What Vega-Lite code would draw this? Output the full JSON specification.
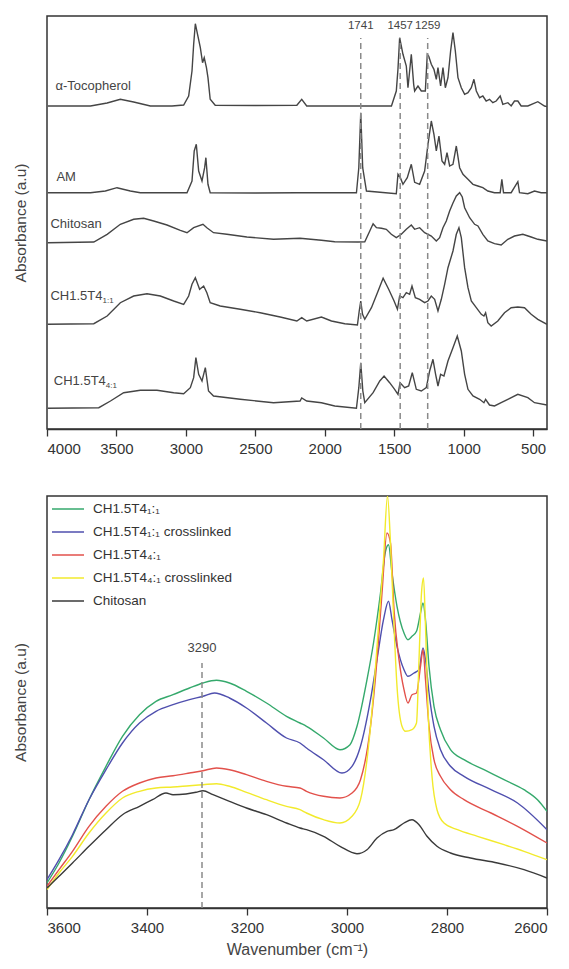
{
"$schema":"https://vega.github.io/schema/vega-lite/v6.json",
"background":"white",
"padding":{"left":12,"top":15,"right":18,"bottom":5},
"spacing":38,
"config":{
 "font":"Liberation Sans",
 "view":{"stroke":"#333","strokeWidth":1.5},
 "axis":{"grid":false,"domainColor":"#333","domainWidth":1.5,"tickColor":"#333","tickWidth":1.3,"tickSize":7,"labelColor":"#333","labelFontSize":15,"labelPadding":5,"titleColor":"#444","titleFontSize":16,"titleFontWeight":"normal","titleFont":"Liberation Sans","labelFont":"Liberation Sans","titlePadding":6},
 "axisY":{"labels":false,"ticks":false,"domain":false,"titlePadding":19,"titleFontSize":15.5}
},
"datasets":{
"top":[
{"s":"T","w":3994,"a":323},{"s":"T","w":3850,"a":323},{"s":"T","w":3687,"a":323},{"s":"T","w":3567,"a":326},{"s":"T","w":3472,"a":329.7},{"s":"T","w":3376,"a":327},{"s":"T","w":3256,"a":323},{"s":"T","w":3100,"a":323},{"s":"T","w":3016,"a":324},{"s":"T","w":2980,"a":333},{"s":"T","w":2956,"a":358},{"s":"T","w":2944,"a":384.7},{"s":"T","w":2932,"a":405.3},{"s":"T","w":2916,"a":394.7},{"s":"T","w":2896,"a":381.3},{"s":"T","w":2880,"a":366.3},{"s":"T","w":2868,"a":371.3},{"s":"T","w":2852,"a":361.3},{"s":"T","w":2841,"a":351.3},{"s":"T","w":2825,"a":329.7},{"s":"T","w":2789,"a":323.7},{"s":"T","w":2500,"a":323.5},{"s":"T","w":2201,"a":323.7},{"s":"T","w":2166,"a":329.7},{"s":"T","w":2130,"a":323},{"s":"T","w":1800,"a":323},{"s":"T","w":1520,"a":323},{"s":"T","w":1485,"a":338},{"s":"T","w":1473,"a":360},{"s":"T","w":1461,"a":391.3},{"s":"T","w":1437,"a":374.7},{"s":"T","w":1413,"a":363},{"s":"T","w":1401,"a":341.3},{"s":"T","w":1377,"a":374.7},{"s":"T","w":1360,"a":344.7},{"s":"T","w":1353,"a":338},{"s":"T","w":1329,"a":343},{"s":"T","w":1305,"a":338},{"s":"T","w":1276,"a":338},{"s":"T","w":1262,"a":374.7},{"s":"T","w":1252,"a":373},{"s":"T","w":1233,"a":364.7},{"s":"T","w":1214,"a":359.7},{"s":"T","w":1197,"a":349.7},{"s":"T","w":1185,"a":361.3},{"s":"T","w":1166,"a":343},{"s":"T","w":1149,"a":361.3},{"s":"T","w":1132,"a":341.3},{"s":"T","w":1113,"a":351.3},{"s":"T","w":1094,"a":378},{"s":"T","w":1077,"a":396.3},{"s":"T","w":1060,"a":378},{"s":"T","w":1041,"a":351.3},{"s":"T","w":1017,"a":341.3},{"s":"T","w":993,"a":334.7},{"s":"T","w":969,"a":336.3},{"s":"T","w":945,"a":341.3},{"s":"T","w":926,"a":349.7},{"s":"T","w":909,"a":338},{"s":"T","w":885,"a":331.3},{"s":"T","w":862,"a":333},{"s":"T","w":838,"a":328},{"s":"T","w":814,"a":329.7},{"s":"T","w":790,"a":326.3},{"s":"T","w":766,"a":328},{"s":"T","w":737,"a":333},{"s":"T","w":718,"a":324.7},{"s":"T","w":682,"a":326.3},{"s":"T","w":658,"a":323},{"s":"T","w":634,"a":328},{"s":"T","w":610,"a":328},{"s":"T","w":586,"a":323},{"s":"T","w":538,"a":323},{"s":"T","w":466,"a":327.3},{"s":"T","w":418,"a":323},{"s":"T","w":400,"a":322.3},
{"s":"AM","w":3994,"a":236.3},{"s":"AM","w":3687,"a":236.3},{"s":"AM","w":3580,"a":238},{"s":"AM","w":3496,"a":241.3},{"s":"AM","w":3400,"a":238},{"s":"AM","w":3328,"a":236.3},{"s":"AM","w":2992,"a":236.3},{"s":"AM","w":2956,"a":248},{"s":"AM","w":2940,"a":278},{"s":"AM","w":2925,"a":284.7},{"s":"AM","w":2908,"a":258},{"s":"AM","w":2884,"a":248},{"s":"AM","w":2865,"a":261.3},{"s":"AM","w":2856,"a":271.3},{"s":"AM","w":2841,"a":244.7},{"s":"AM","w":2825,"a":236.3},{"s":"AM","w":2500,"a":236},{"s":"AM","w":2200,"a":236.3},{"s":"AM","w":1772,"a":236.3},{"s":"AM","w":1755,"a":261.3},{"s":"AM","w":1741,"a":316.3},{"s":"AM","w":1727,"a":261.3},{"s":"AM","w":1700,"a":238},{"s":"AM","w":1485,"a":235.3},{"s":"AM","w":1473,"a":254.7},{"s":"AM","w":1456,"a":251.3},{"s":"AM","w":1437,"a":244.7},{"s":"AM","w":1406,"a":251.3},{"s":"AM","w":1377,"a":264.7},{"s":"AM","w":1353,"a":246.7},{"s":"AM","w":1317,"a":244.7},{"s":"AM","w":1281,"a":258},{"s":"AM","w":1257,"a":284.7},{"s":"AM","w":1233,"a":308},{"s":"AM","w":1214,"a":294.7},{"s":"AM","w":1197,"a":278},{"s":"AM","w":1178,"a":293},{"s":"AM","w":1156,"a":268},{"s":"AM","w":1137,"a":264.7},{"s":"AM","w":1120,"a":276.3},{"s":"AM","w":1101,"a":263},{"s":"AM","w":1077,"a":264.7},{"s":"AM","w":1053,"a":283},{"s":"AM","w":1029,"a":261.3},{"s":"AM","w":1005,"a":254.7},{"s":"AM","w":969,"a":249.7},{"s":"AM","w":933,"a":244.7},{"s":"AM","w":898,"a":243},{"s":"AM","w":862,"a":241.3},{"s":"AM","w":826,"a":238},{"s":"AM","w":778,"a":236.3},{"s":"AM","w":737,"a":236.3},{"s":"AM","w":725,"a":249.7},{"s":"AM","w":713,"a":236.3},{"s":"AM","w":658,"a":236.3},{"s":"AM","w":610,"a":247.3},{"s":"AM","w":598,"a":236.3},{"s":"AM","w":538,"a":235.3},{"s":"AM","w":490,"a":238},{"s":"AM","w":442,"a":236.3},{"s":"AM","w":400,"a":236.3},
{"s":"C","w":3994,"a":186.3},{"s":"C","w":3663,"a":187},{"s":"C","w":3567,"a":194.7},{"s":"C","w":3472,"a":204.7},{"s":"C","w":3376,"a":209.7},{"s":"C","w":3304,"a":210.7},{"s":"C","w":3232,"a":208},{"s":"C","w":3136,"a":204},{"s":"C","w":3040,"a":198.7},{"s":"C","w":2992,"a":196.3},{"s":"C","w":2944,"a":201.3},{"s":"C","w":2877,"a":204.7},{"s":"C","w":2849,"a":201.3},{"s":"C","w":2801,"a":196.3},{"s":"C","w":2705,"a":194.7},{"s":"C","w":2561,"a":192},{"s":"C","w":2369,"a":189.7},{"s":"C","w":2178,"a":190.7},{"s":"C","w":2024,"a":188.7},{"s":"C","w":1928,"a":187.3},{"s":"C","w":1760,"a":187},{"s":"C","w":1712,"a":187.3},{"s":"C","w":1676,"a":198},{"s":"C","w":1652,"a":205.3},{"s":"C","w":1628,"a":201.3},{"s":"C","w":1592,"a":200.7},{"s":"C","w":1557,"a":199.7},{"s":"C","w":1521,"a":194.7},{"s":"C","w":1485,"a":191.3},{"s":"C","w":1449,"a":194.7},{"s":"C","w":1413,"a":199.7},{"s":"C","w":1377,"a":204},{"s":"C","w":1353,"a":199.7},{"s":"C","w":1317,"a":201.3},{"s":"C","w":1281,"a":196.3},{"s":"C","w":1233,"a":193},{"s":"C","w":1197,"a":188},{"s":"C","w":1173,"a":191.3},{"s":"C","w":1149,"a":201.3},{"s":"C","w":1125,"a":208},{"s":"C","w":1101,"a":218},{"s":"C","w":1077,"a":226},{"s":"C","w":1053,"a":233},{"s":"C","w":1029,"a":236.3},{"s":"C","w":1010,"a":232},{"s":"C","w":993,"a":221.3},{"s":"C","w":957,"a":211.3},{"s":"C","w":921,"a":204.7},{"s":"C","w":897,"a":203},{"s":"C","w":862,"a":194.7},{"s":"C","w":826,"a":188},{"s":"C","w":778,"a":185.3},{"s":"C","w":730,"a":184},{"s":"C","w":682,"a":189.7},{"s":"C","w":634,"a":193},{"s":"C","w":574,"a":194.7},{"s":"C","w":514,"a":192},{"s":"C","w":466,"a":189.7},{"s":"C","w":400,"a":188},
{"s":"C11","w":3994,"a":104.7},{"s":"C11","w":3663,"a":105.3},{"s":"C11","w":3567,"a":113},{"s":"C11","w":3472,"a":126.3},{"s":"C11","w":3376,"a":133},{"s":"C11","w":3280,"a":135.3},{"s":"C11","w":3184,"a":133},{"s":"C11","w":3088,"a":128},{"s":"C11","w":3016,"a":124.7},{"s":"C11","w":2980,"a":133},{"s":"C11","w":2956,"a":144.7},{"s":"C11","w":2932,"a":151.3},{"s":"C11","w":2901,"a":139.7},{"s":"C11","w":2872,"a":143},{"s":"C11","w":2849,"a":136.3},{"s":"C11","w":2825,"a":126.3},{"s":"C11","w":2753,"a":123},{"s":"C11","w":2609,"a":119.7},{"s":"C11","w":2465,"a":116.3},{"s":"C11","w":2321,"a":112},{"s":"C11","w":2201,"a":108},{"s":"C11","w":2166,"a":111.3},{"s":"C11","w":2130,"a":108},{"s":"C11","w":2024,"a":112},{"s":"C11","w":1952,"a":108},{"s":"C11","w":1856,"a":105.3},{"s":"C11","w":1765,"a":104},{"s":"C11","w":1752,"a":118},{"s":"C11","w":1741,"a":128},{"s":"C11","w":1728,"a":114.7},{"s":"C11","w":1712,"a":109.7},{"s":"C11","w":1664,"a":121.3},{"s":"C11","w":1616,"a":138},{"s":"C11","w":1580,"a":150.7},{"s":"C11","w":1540,"a":139.7},{"s":"C11","w":1501,"a":128},{"s":"C11","w":1477,"a":119.7},{"s":"C11","w":1461,"a":133},{"s":"C11","w":1437,"a":131.3},{"s":"C11","w":1413,"a":136.3},{"s":"C11","w":1389,"a":134.7},{"s":"C11","w":1372,"a":143},{"s":"C11","w":1348,"a":131.3},{"s":"C11","w":1317,"a":129.7},{"s":"C11","w":1281,"a":126.3},{"s":"C11","w":1257,"a":128},{"s":"C11","w":1233,"a":133},{"s":"C11","w":1209,"a":129.7},{"s":"C11","w":1185,"a":118},{"s":"C11","w":1161,"a":129.7},{"s":"C11","w":1137,"a":144.7},{"s":"C11","w":1113,"a":161.3},{"s":"C11","w":1077,"a":178},{"s":"C11","w":1053,"a":194.7},{"s":"C11","w":1034,"a":201.3},{"s":"C11","w":1017,"a":191.3},{"s":"C11","w":993,"a":161.3},{"s":"C11","w":969,"a":141.3},{"s":"C11","w":945,"a":128},{"s":"C11","w":909,"a":121.3},{"s":"C11","w":873,"a":114.7},{"s":"C11","w":854,"a":113},{"s":"C11","w":842,"a":116.3},{"s":"C11","w":826,"a":106.3},{"s":"C11","w":802,"a":103},{"s":"C11","w":754,"a":108},{"s":"C11","w":706,"a":116.3},{"s":"C11","w":658,"a":121.3},{"s":"C11","w":610,"a":122},{"s":"C11","w":562,"a":121.3},{"s":"C11","w":514,"a":114.7},{"s":"C11","w":466,"a":109.7},{"s":"C11","w":400,"a":104.7},
{"s":"C41","w":3994,"a":20.7},{"s":"C41","w":3627,"a":21.3},{"s":"C41","w":3543,"a":28},{"s":"C41","w":3448,"a":36.3},{"s":"C41","w":3328,"a":38.7},{"s":"C41","w":3208,"a":38.7},{"s":"C41","w":3088,"a":36.3},{"s":"C41","w":3016,"a":35.3},{"s":"C41","w":2968,"a":41.3},{"s":"C41","w":2944,"a":51.3},{"s":"C41","w":2928,"a":71.3},{"s":"C41","w":2908,"a":54.7},{"s":"C41","w":2884,"a":48},{"s":"C41","w":2860,"a":61.3},{"s":"C41","w":2837,"a":38},{"s":"C41","w":2801,"a":33},{"s":"C41","w":2609,"a":29.7},{"s":"C41","w":2369,"a":26.3},{"s":"C41","w":2178,"a":28},{"s":"C41","w":2166,"a":31},{"s":"C41","w":2130,"a":28},{"s":"C41","w":2024,"a":26.3},{"s":"C41","w":1928,"a":23},{"s":"C41","w":1772,"a":20.7},{"s":"C41","w":1755,"a":41.3},{"s":"C41","w":1741,"a":66.3},{"s":"C41","w":1726,"a":38},{"s":"C41","w":1712,"a":26.3},{"s":"C41","w":1652,"a":36.3},{"s":"C41","w":1604,"a":48},{"s":"C41","w":1573,"a":53},{"s":"C41","w":1533,"a":46.3},{"s":"C41","w":1497,"a":39.7},{"s":"C41","w":1473,"a":34.7},{"s":"C41","w":1458,"a":46.3},{"s":"C41","w":1425,"a":41.3},{"s":"C41","w":1396,"a":43},{"s":"C41","w":1370,"a":56.3},{"s":"C41","w":1341,"a":39.7},{"s":"C41","w":1305,"a":38},{"s":"C41","w":1269,"a":41.3},{"s":"C41","w":1245,"a":58},{"s":"C41","w":1221,"a":69.7},{"s":"C41","w":1202,"a":54.7},{"s":"C41","w":1185,"a":43},{"s":"C41","w":1166,"a":54.7},{"s":"C41","w":1142,"a":53},{"s":"C41","w":1113,"a":68},{"s":"C41","w":1077,"a":81.3},{"s":"C41","w":1046,"a":93},{"s":"C41","w":1017,"a":78},{"s":"C41","w":993,"a":54.7},{"s":"C41","w":969,"a":39.7},{"s":"C41","w":933,"a":33},{"s":"C41","w":885,"a":29.7},{"s":"C41","w":854,"a":26.3},{"s":"C41","w":842,"a":29.7},{"s":"C41","w":814,"a":24},{"s":"C41","w":778,"a":23},{"s":"C41","w":730,"a":26.3},{"s":"C41","w":682,"a":29.7},{"s":"C41","w":610,"a":34.7},{"s":"C41","w":538,"a":31.3},{"s":"C41","w":490,"a":26.3},{"s":"C41","w":400,"a":24}
],
"names":[
{"t":"α-Tocopherol","sub":"","w":3939,"a":343},
{"t":"AM","sub":"","w":3932,"a":252.3},
{"t":"Chitosan","sub":"","w":3975,"a":204.7},
{"t":"CH1.5T4","sub":"1:1","w":3975,"a":133},
{"t":"CH1.5T4","sub":"4:1","w":3951,"a":48}
],
"peaks":[{"w":1741},{"w":1457},{"w":1259}],
"peak2":[{"w":3290}],
"bottom":[
{"s":"CH1.5T4₁:₁","w":3600,"a":25},{"s":"CH1.5T4₁:₁","w":3576,"a":45},{"s":"CH1.5T4₁:₁","w":3549,"a":71.7},{"s":"CH1.5T4₁:₁","w":3516,"a":108.3},{"s":"CH1.5T4₁:₁","w":3482,"a":141.7},{"s":"CH1.5T4₁:₁","w":3449,"a":171.7},{"s":"CH1.5T4₁:₁","w":3415,"a":193.3},{"s":"CH1.5T4₁:₁","w":3382,"a":206.7},{"s":"CH1.5T4₁:₁","w":3348,"a":213.3},{"s":"CH1.5T4₁:₁","w":3315,"a":220},{"s":"CH1.5T4₁:₁","w":3288,"a":225},{"s":"CH1.5T4₁:₁","w":3261,"a":227.7},{"s":"CH1.5T4₁:₁","w":3235,"a":225},{"s":"CH1.5T4₁:₁","w":3201,"a":216.7},{"s":"CH1.5T4₁:₁","w":3161,"a":205},{"s":"CH1.5T4₁:₁","w":3121,"a":191.7},{"s":"CH1.5T4₁:₁","w":3094,"a":185},{"s":"CH1.5T4₁:₁","w":3081,"a":181.7},{"s":"CH1.5T4₁:₁","w":3047,"a":170},{"s":"CH1.5T4₁:₁","w":3014,"a":158.3},{"s":"CH1.5T4₁:₁","w":2994,"a":163.3},{"s":"CH1.5T4₁:₁","w":2980,"a":181.7},{"s":"CH1.5T4₁:₁","w":2960,"a":228.3},{"s":"CH1.5T4₁:₁","w":2947,"a":265},{"s":"CH1.5T4₁:₁","w":2933,"a":315},{"s":"CH1.5T4₁:₁","w":2923,"a":356.7},{"s":"CH1.5T4₁:₁","w":2917,"a":363.3},{"s":"CH1.5T4₁:₁","w":2910,"a":335},{"s":"CH1.5T4₁:₁","w":2900,"a":301.7},{"s":"CH1.5T4₁:₁","w":2886,"a":275},{"s":"CH1.5T4₁:₁","w":2878,"a":268.3},{"s":"CH1.5T4₁:₁","w":2870,"a":271.7},{"s":"CH1.5T4₁:₁","w":2861,"a":276.7},{"s":"CH1.5T4₁:₁","w":2853,"a":295},{"s":"CH1.5T4₁:₁","w":2848,"a":305},{"s":"CH1.5T4₁:₁","w":2843,"a":288.3},{"s":"CH1.5T4₁:₁","w":2836,"a":241.7},{"s":"CH1.5T4₁:₁","w":2826,"a":201.7},{"s":"CH1.5T4₁:₁","w":2813,"a":178.3},{"s":"CH1.5T4₁:₁","w":2793,"a":158.3},{"s":"CH1.5T4₁:₁","w":2766,"a":148.3},{"s":"CH1.5T4₁:₁","w":2726,"a":138.3},{"s":"CH1.5T4₁:₁","w":2686,"a":128.3},{"s":"CH1.5T4₁:₁","w":2646,"a":118.3},{"s":"CH1.5T4₁:₁","w":2619,"a":108.3},{"s":"CH1.5T4₁:₁","w":2600,"a":96.7},
{"s":"CH1.5T4₁:₁ crosslinked","w":3600,"a":28.3},{"s":"CH1.5T4₁:₁ crosslinked","w":3576,"a":48.3},{"s":"CH1.5T4₁:₁ crosslinked","w":3549,"a":73.3},{"s":"CH1.5T4₁:₁ crosslinked","w":3516,"a":108.3},{"s":"CH1.5T4₁:₁ crosslinked","w":3482,"a":138.3},{"s":"CH1.5T4₁:₁ crosslinked","w":3449,"a":165},{"s":"CH1.5T4₁:₁ crosslinked","w":3415,"a":185},{"s":"CH1.5T4₁:₁ crosslinked","w":3382,"a":196.7},{"s":"CH1.5T4₁:₁ crosslinked","w":3348,"a":203.3},{"s":"CH1.5T4₁:₁ crosslinked","w":3315,"a":208.3},{"s":"CH1.5T4₁:₁ crosslinked","w":3288,"a":211.7},{"s":"CH1.5T4₁:₁ crosslinked","w":3265,"a":215},{"s":"CH1.5T4₁:₁ crosslinked","w":3235,"a":210},{"s":"CH1.5T4₁:₁ crosslinked","w":3201,"a":200},{"s":"CH1.5T4₁:₁ crosslinked","w":3161,"a":185},{"s":"CH1.5T4₁:₁ crosslinked","w":3121,"a":170},{"s":"CH1.5T4₁:₁ crosslinked","w":3094,"a":165},{"s":"CH1.5T4₁:₁ crosslinked","w":3081,"a":160},{"s":"CH1.5T4₁:₁ crosslinked","w":3047,"a":148.3},{"s":"CH1.5T4₁:₁ crosslinked","w":3010,"a":135},{"s":"CH1.5T4₁:₁ crosslinked","w":2990,"a":141.7},{"s":"CH1.5T4₁:₁ crosslinked","w":2973,"a":161.7},{"s":"CH1.5T4₁:₁ crosslinked","w":2953,"a":208.3},{"s":"CH1.5T4₁:₁ crosslinked","w":2940,"a":248.3},{"s":"CH1.5T4₁:₁ crosslinked","w":2927,"a":288.3},{"s":"CH1.5T4₁:₁ crosslinked","w":2917,"a":306.7},{"s":"CH1.5T4₁:₁ crosslinked","w":2910,"a":288.3},{"s":"CH1.5T4₁:₁ crosslinked","w":2900,"a":261.7},{"s":"CH1.5T4₁:₁ crosslinked","w":2886,"a":238.3},{"s":"CH1.5T4₁:₁ crosslinked","w":2878,"a":231.7},{"s":"CH1.5T4₁:₁ crosslinked","w":2866,"a":235},{"s":"CH1.5T4₁:₁ crosslinked","w":2856,"a":238.3},{"s":"CH1.5T4₁:₁ crosslinked","w":2848,"a":260},{"s":"CH1.5T4₁:₁ crosslinked","w":2843,"a":248.3},{"s":"CH1.5T4₁:₁ crosslinked","w":2836,"a":215},{"s":"CH1.5T4₁:₁ crosslinked","w":2826,"a":181.7},{"s":"CH1.5T4₁:₁ crosslinked","w":2813,"a":158.3},{"s":"CH1.5T4₁:₁ crosslinked","w":2793,"a":141.7},{"s":"CH1.5T4₁:₁ crosslinked","w":2766,"a":131.7},{"s":"CH1.5T4₁:₁ crosslinked","w":2712,"a":118.3},{"s":"CH1.5T4₁:₁ crosslinked","w":2659,"a":105},{"s":"CH1.5T4₁:₁ crosslinked","w":2600,"a":78.3},
{"s":"CH1.5T4₄:₁","w":3600,"a":21.7},{"s":"CH1.5T4₄:₁","w":3576,"a":38.3},{"s":"CH1.5T4₄:₁","w":3549,"a":56.7},{"s":"CH1.5T4₄:₁","w":3516,"a":81.7},{"s":"CH1.5T4₄:₁","w":3482,"a":101.7},{"s":"CH1.5T4₄:₁","w":3449,"a":116.7},{"s":"CH1.5T4₄:₁","w":3415,"a":125},{"s":"CH1.5T4₄:₁","w":3382,"a":130},{"s":"CH1.5T4₄:₁","w":3348,"a":132.3},{"s":"CH1.5T4₄:₁","w":3315,"a":135},{"s":"CH1.5T4₄:₁","w":3288,"a":137.3},{"s":"CH1.5T4₄:₁","w":3261,"a":140},{"s":"CH1.5T4₄:₁","w":3235,"a":138.3},{"s":"CH1.5T4₄:₁","w":3201,"a":133.3},{"s":"CH1.5T4₄:₁","w":3161,"a":126.7},{"s":"CH1.5T4₄:₁","w":3121,"a":121.7},{"s":"CH1.5T4₄:₁","w":3094,"a":120},{"s":"CH1.5T4₄:₁","w":3081,"a":116.7},{"s":"CH1.5T4₄:₁","w":3047,"a":111.7},{"s":"CH1.5T4₄:₁","w":3014,"a":110},{"s":"CH1.5T4₄:₁","w":2990,"a":115},{"s":"CH1.5T4₄:₁","w":2973,"a":128.3},{"s":"CH1.5T4₄:₁","w":2953,"a":181.7},{"s":"CH1.5T4₄:₁","w":2940,"a":248.3},{"s":"CH1.5T4₄:₁","w":2930,"a":315},{"s":"CH1.5T4₄:₁","w":2920,"a":375},{"s":"CH1.5T4₄:₁","w":2913,"a":365},{"s":"CH1.5T4₄:₁","w":2906,"a":298.3},{"s":"CH1.5T4₄:₁","w":2896,"a":248.3},{"s":"CH1.5T4₄:₁","w":2886,"a":218.3},{"s":"CH1.5T4₄:₁","w":2878,"a":205},{"s":"CH1.5T4₄:₁","w":2870,"a":213.3},{"s":"CH1.5T4₄:₁","w":2861,"a":215},{"s":"CH1.5T4₄:₁","w":2853,"a":241.7},{"s":"CH1.5T4₄:₁","w":2848,"a":258.3},{"s":"CH1.5T4₄:₁","w":2843,"a":228.3},{"s":"CH1.5T4₄:₁","w":2836,"a":181.7},{"s":"CH1.5T4₄:₁","w":2826,"a":148.3},{"s":"CH1.5T4₄:₁","w":2813,"a":131.7},{"s":"CH1.5T4₄:₁","w":2793,"a":118.3},{"s":"CH1.5T4₄:₁","w":2766,"a":108.3},{"s":"CH1.5T4₄:₁","w":2712,"a":95},{"s":"CH1.5T4₄:₁","w":2659,"a":81.7},{"s":"CH1.5T4₄:₁","w":2600,"a":65},
{"s":"CH1.5T4₄:₁ crosslinked","w":3600,"a":18.3},{"s":"CH1.5T4₄:₁ crosslinked","w":3576,"a":35},{"s":"CH1.5T4₄:₁ crosslinked","w":3549,"a":51.7},{"s":"CH1.5T4₄:₁ crosslinked","w":3516,"a":75},{"s":"CH1.5T4₄:₁ crosslinked","w":3482,"a":95},{"s":"CH1.5T4₄:₁ crosslinked","w":3449,"a":110},{"s":"CH1.5T4₄:₁ crosslinked","w":3415,"a":116.7},{"s":"CH1.5T4₄:₁ crosslinked","w":3382,"a":120},{"s":"CH1.5T4₄:₁ crosslinked","w":3348,"a":121},{"s":"CH1.5T4₄:₁ crosslinked","w":3315,"a":122.3},{"s":"CH1.5T4₄:₁ crosslinked","w":3288,"a":123.3},{"s":"CH1.5T4₄:₁ crosslinked","w":3261,"a":124.3},{"s":"CH1.5T4₄:₁ crosslinked","w":3235,"a":121.7},{"s":"CH1.5T4₄:₁ crosslinked","w":3201,"a":115.7},{"s":"CH1.5T4₄:₁ crosslinked","w":3161,"a":108.3},{"s":"CH1.5T4₄:₁ crosslinked","w":3121,"a":101.7},{"s":"CH1.5T4₄:₁ crosslinked","w":3094,"a":98.3},{"s":"CH1.5T4₄:₁ crosslinked","w":3081,"a":95},{"s":"CH1.5T4₄:₁ crosslinked","w":3047,"a":88.3},{"s":"CH1.5T4₄:₁ crosslinked","w":3014,"a":85},{"s":"CH1.5T4₄:₁ crosslinked","w":2990,"a":91.7},{"s":"CH1.5T4₄:₁ crosslinked","w":2973,"a":108.3},{"s":"CH1.5T4₄:₁ crosslinked","w":2960,"a":148.3},{"s":"CH1.5T4₄:₁ crosslinked","w":2947,"a":215},{"s":"CH1.5T4₄:₁ crosslinked","w":2937,"a":281.7},{"s":"CH1.5T4₄:₁ crosslinked","w":2927,"a":348.3},{"s":"CH1.5T4₄:₁ crosslinked","w":2919,"a":412},{"s":"CH1.5T4₄:₁ crosslinked","w":2913,"a":365},{"s":"CH1.5T4₄:₁ crosslinked","w":2906,"a":281.7},{"s":"CH1.5T4₄:₁ crosslinked","w":2900,"a":221.7},{"s":"CH1.5T4₄:₁ crosslinked","w":2890,"a":181.7},{"s":"CH1.5T4₄:₁ crosslinked","w":2883,"a":176.7},{"s":"CH1.5T4₄:₁ crosslinked","w":2870,"a":178.3},{"s":"CH1.5T4₄:₁ crosslinked","w":2861,"a":185},{"s":"CH1.5T4₄:₁ crosslinked","w":2856,"a":248.3},{"s":"CH1.5T4₄:₁ crosslinked","w":2851,"a":315},{"s":"CH1.5T4₄:₁ crosslinked","w":2847,"a":330},{"s":"CH1.5T4₄:₁ crosslinked","w":2843,"a":281.7},{"s":"CH1.5T4₄:₁ crosslinked","w":2838,"a":198.3},{"s":"CH1.5T4₄:₁ crosslinked","w":2830,"a":131.7},{"s":"CH1.5T4₄:₁ crosslinked","w":2820,"a":98.3},{"s":"CH1.5T4₄:₁ crosslinked","w":2806,"a":85},{"s":"CH1.5T4₄:₁ crosslinked","w":2779,"a":78.3},{"s":"CH1.5T4₄:₁ crosslinked","w":2739,"a":71.7},{"s":"CH1.5T4₄:₁ crosslinked","w":2686,"a":63.3},{"s":"CH1.5T4₄:₁ crosslinked","w":2646,"a":56.7},{"s":"CH1.5T4₄:₁ crosslinked","w":2600,"a":48.3},
{"s":"Chitosan","w":3600,"a":20},{"s":"Chitosan","w":3576,"a":31.7},{"s":"Chitosan","w":3549,"a":45},{"s":"Chitosan","w":3516,"a":61.7},{"s":"Chitosan","w":3482,"a":78.3},{"s":"Chitosan","w":3449,"a":93.3},{"s":"Chitosan","w":3415,"a":101.7},{"s":"Chitosan","w":3389,"a":108.3},{"s":"Chitosan","w":3362,"a":115},{"s":"Chitosan","w":3348,"a":113.3},{"s":"Chitosan","w":3322,"a":114},{"s":"Chitosan","w":3302,"a":115.7},{"s":"Chitosan","w":3288,"a":117.3},{"s":"Chitosan","w":3268,"a":113.3},{"s":"Chitosan","w":3235,"a":106.7},{"s":"Chitosan","w":3201,"a":100},{"s":"Chitosan","w":3161,"a":93.3},{"s":"Chitosan","w":3121,"a":85},{"s":"Chitosan","w":3094,"a":80},{"s":"Chitosan","w":3081,"a":78.3},{"s":"Chitosan","w":3047,"a":71.7},{"s":"Chitosan","w":3014,"a":61.7},{"s":"Chitosan","w":2980,"a":54.3},{"s":"Chitosan","w":2960,"a":58.3},{"s":"Chitosan","w":2940,"a":70},{"s":"Chitosan","w":2920,"a":76.7},{"s":"Chitosan","w":2906,"a":78.3},{"s":"Chitosan","w":2886,"a":85},{"s":"Chitosan","w":2870,"a":88.3},{"s":"Chitosan","w":2856,"a":83.3},{"s":"Chitosan","w":2840,"a":71.7},{"s":"Chitosan","w":2820,"a":61.7},{"s":"Chitosan","w":2793,"a":55},{"s":"Chitosan","w":2753,"a":50},{"s":"Chitosan","w":2699,"a":45},{"s":"Chitosan","w":2646,"a":38.3},{"s":"Chitosan","w":2600,"a":30}
]
},
"vconcat":[
{
 "width":500,"height":413,
 "layer":[
  {"data":{"name":"top"},"mark":{"type":"line","color":"#454545","strokeWidth":1.4,"clip":true},
   "encoding":{
    "x":{"field":"w","type":"quantitative","scale":{"domain":[400,4000],"reverse":true,"nice":false,"zero":false},"axis":{"values":[4000,3500,3000,2500,2000,1500,1000,500],"format":"d","title":null}},
    "y":{"field":"a","type":"quantitative","scale":{"domain":[0,413],"nice":false,"zero":false},"axis":{"title":"Absorbance (a.u)"}},
    "detail":{"field":"s"},
    "order":{"field":"w","type":"quantitative"}}},
  {"data":{"name":"peaks"},"mark":{"type":"rule","color":"#8a8a8a","strokeWidth":1.5,"strokeDash":[6,4]},
   "encoding":{"x":{"field":"w","type":"quantitative"},"y":{"datum":0},"y2":{"datum":391}}},
  {"data":{"name":"peaks"},"mark":{"type":"text","fontSize":11.5,"color":"#444","baseline":"middle"},
   "encoding":{"x":{"field":"w","type":"quantitative"},"y":{"datum":403},"text":{"field":"w","type":"quantitative","format":"d"}}},
  {"data":{"name":"names"},"mark":{"type":"text","align":"left","baseline":"middle","fontSize":13,"color":"#444"},
   "encoding":{"x":{"field":"w","type":"quantitative"},"y":{"field":"a","type":"quantitative"},"text":{"field":"t"}}},
  {"data":{"name":"names"},"mark":{"type":"text","align":"left","baseline":"middle","fontSize":8,"color":"#444","dx":52,"dy":5},
   "encoding":{"x":{"field":"w","type":"quantitative"},"y":{"field":"a","type":"quantitative"},"text":{"field":"sub"}}}
 ]
},
{
 "width":500,"height":412,
 "layer":[
  {"data":{"name":"bottom"},"mark":{"type":"line","strokeWidth":1.4,"clip":true,"interpolate":"monotone"},
   "encoding":{
    "x":{"field":"w","type":"quantitative","scale":{"domain":[2600,3600],"reverse":true,"nice":false,"zero":false},"axis":{"values":[3600,3400,3200,3000,2800,2600],"format":"d","title":"Wavenumber (cm⁻¹)"}},
    "y":{"field":"a","type":"quantitative","scale":{"domain":[0,412],"nice":false,"zero":false},"axis":{"title":"Absorbance (a.u)"}},
    "color":{"field":"s","type":"nominal",
      "scale":{"domain":["CH1.5T4₁:₁","CH1.5T4₁:₁ crosslinked","CH1.5T4₄:₁","CH1.5T4₄:₁ crosslinked","Chitosan"],"range":["#35a96c","#4f4fae","#e2514b","#f2ea2c","#3a3a3a"]},
      "legend":{"title":null,"orient":"none","legendX":10,"legendY":482,"symbolType":"M-1.6,0H1.6","symbolSize":400,"symbolStrokeWidth":1.5,"labelFontSize":13.5,"labelColor":"#333","labelFont":"Liberation Sans","labelOffset":14,"padding":0,"rowPadding":5}},
    "order":{"field":"w","type":"quantitative"}}},
  {"data":{"name":"peak2"},"mark":{"type":"rule","color":"#8a8a8a","strokeWidth":1.5,"strokeDash":[6,4]},
   "encoding":{"x":{"field":"w","type":"quantitative"},"y":{"datum":0},"y2":{"datum":245}}},
  {"data":{"name":"peak2"},"mark":{"type":"text","fontSize":13,"color":"#444","baseline":"middle"},
   "encoding":{"x":{"field":"w","type":"quantitative"},"y":{"datum":260},"text":{"field":"w","type":"quantitative","format":"d"}}}
 ]
}
]
}
